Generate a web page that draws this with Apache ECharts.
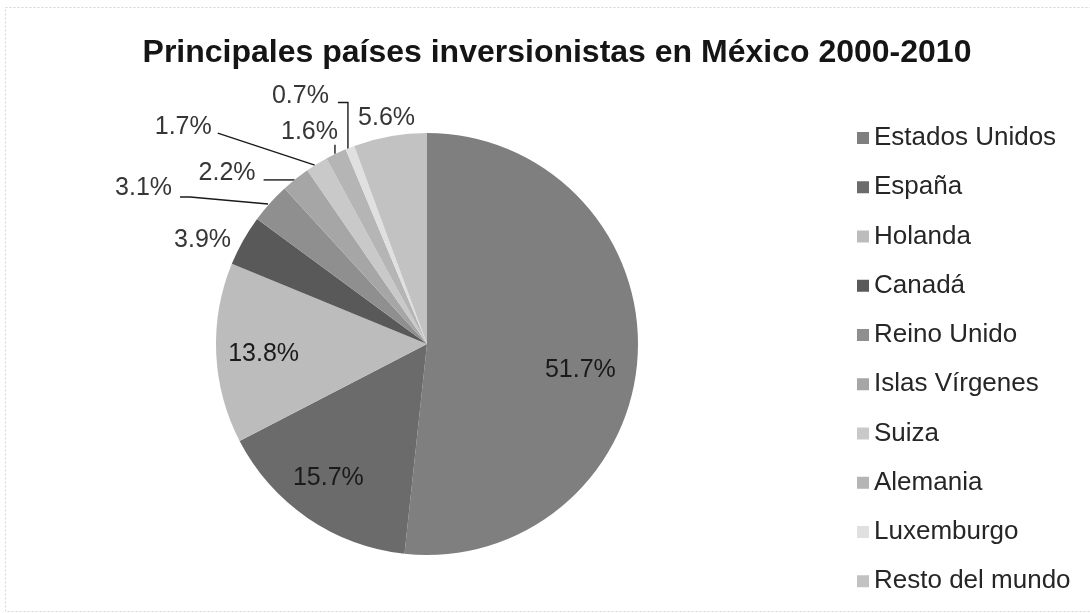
<!DOCTYPE html>
<html>
<head>
<meta charset="utf-8">
<script src="https://cdn.jsdelivr.net/npm/echarts@6/dist/echarts.min.js"></script>
<style>
  html, body { margin: 0; padding: 0; background: #fff; }
  #chart { width: 1090px; height: 613px; }
</style>
</head>
<body>
<div id="chart"></div>
<script>
// Participación (%) por país en la inversión extranjera directa, 2000-2010
const countries = ['Estados Unidos', 'España', 'Holanda', 'Canadá', 'Reino Unido',
  'Islas Vírgenes', 'Suiza', 'Alemania', 'Luxemburgo', 'Resto del mundo'];
const shares = [51.7, 15.7, 13.8, 3.9, 3.1, 2.2, 1.7, 1.6, 0.7, 5.6];
const sliceColors = ['#7f7f7f', '#6b6b6b', '#bcbcbc', '#595959', '#8f8f8f',
  '#a6a6a6', '#c9c9c9', '#b5b5b5', '#e0e0e0', '#c2c2c2'];
// slices whose value is written inside the pie
const insideNames = ['Estados Unidos', 'España', 'Holanda'];

const font = '"Liberation Sans", Arial, sans-serif';
const CX = 427, CY = 344, R = 211;

// Placement of the outside labels, relative to the middle of each slice's arc:
// at = [dx, dy] of the label's right edge, line = leader points from the arc.
const outsidePlacement = {
  'Canadá':          { at: [-12, -1] },
  'Reino Unido':     { at: [-98, -15], line: [[-2, 1], [-80, -6], [-90, -6]] },
  'Islas Vírgenes':  { at: [-40, -6],  line: [[-1, 1], [-32, 1]] },
  'Suiza':           { at: [-105, -37], line: [[-2, 1], [-99, -31]] },
  'Alemania':        { at: [2, -22],   line: [[-1, 0], [-1, -9]] },
  'Luxemburgo':      { at: [-21, -51], line: [[-2, 2], [-2, -45], [-12, -45]] },
  'Resto del mundo': { at: [25, -18] }
};
// small nudges for the labels drawn inside the pie
const insideNudge = { 'Estados Unidos': [-14, 17], 'España': [-4, -4], 'Holanda': [4, 3] };

// middle point of a slice's outer arc, from the cumulative shares
const total = shares.reduce((a, b) => a + b, 0);
function arcMid(i) {
  const before = shares.slice(0, i).reduce((a, b) => a + b, 0);
  const ang = (before + shares[i] / 2) / total * 2 * Math.PI;
  return [CX + R * Math.sin(ang), CY - R * Math.cos(ang)];
}

const baseData = countries.map((name, i) => ({
  name: name,
  value: shares[i],
  itemStyle: { color: sliceColors[i] }
}));

const chart = echarts.init(document.getElementById('chart'));
chart.setOption({
  backgroundColor: '#ffffff',
  animation: false,
  graphic: [{
    type: 'rect',
    shape: { x: 5.5, y: 7.5, width: 1090, height: 604 },
    style: { fill: 'none', stroke: '#d4d4d4', lineWidth: 1, lineDash: [2, 2] },
    silent: true, z: -1
  }],
  title: {
    text: 'Principales países inversionistas en México 2000-2010',
    left: 552, top: 32, textAlign: 'center',
    textStyle: { fontFamily: font, fontSize: 32, fontWeight: 'bold', color: '#151515' }
  },
  legend: {
    orient: 'vertical',
    left: 852, top: 119,
    itemWidth: 12, itemHeight: 12, itemGap: 21.25,
    icon: 'rect',
    data: countries,
    textStyle: { fontFamily: font, fontSize: 26, lineHeight: 28, color: '#262626' }
  },
  series: [
    {
      // the pie itself, with the small shares labelled outside
      type: 'pie',
      center: [CX, CY],
      radius: [0, R],
      startAngle: 90,
      clockwise: true,
      avoidLabelOverlap: false,
      data: baseData.map(d => Object.assign({}, d, {
        label: { show: !insideNames.includes(d.name) }
      })),
      label: {
        position: 'outside',
        formatter: p => p.value.toFixed(1) + '%',
        fontFamily: font, fontSize: 25, color: '#363636'
      },
      labelLine: { show: true, length: 10, length2: 10, lineStyle: { color: '#1a1a1a', width: 1.4 } },
      labelLayout: function (params) {
        const p = outsidePlacement[countries[params.dataIndex]];
        if (!p) return {};
        const a = arcMid(params.dataIndex);
        const pts = p.line ? p.line : [[0, 0], [0, 0], [0, 0]];
        return {
          x: a[0] + p.at[0], y: a[1] + p.at[1],
          align: 'right', verticalAlign: 'middle',
          labelLinePoints: pts.map(q => [a[0] + q[0], a[1] + q[1]])
        };
      },
      emphasis: { disabled: true }
    },
    {
      // transparent ring carrying the inside labels of the three largest slices
      type: 'pie',
      center: [CX, CY],
      radius: [R * 0.56, R],
      startAngle: 90,
      clockwise: true,
      silent: true,
      legendHoverLink: false,
      data: baseData.map(d => ({
        name: d.name, value: d.value,
        itemStyle: { color: 'rgba(0,0,0,0)' },
        label: { show: insideNames.includes(d.name) }
      })),
      label: {
        position: 'inside',
        formatter: p => p.value.toFixed(1) + '%',
        fontFamily: font, fontSize: 25, color: '#1a1a1a'
      },
      labelLine: { show: false },
      labelLayout: function (params) {
        const n = insideNudge[countries[params.dataIndex]];
        return n ? { dx: n[0], dy: n[1] } : {};
      },
      emphasis: { disabled: true }
    }
  ]
});
</script>
</body>
</html>
